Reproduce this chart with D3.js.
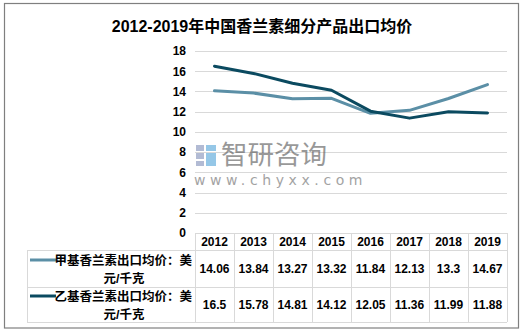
<!DOCTYPE html>
<html><head><meta charset="utf-8">
<script src="https://cdn.jsdelivr.net/npm/d3@7"></script>
<style>body{margin:0;background:#fff}svg{display:block}</style>
</head><body>
<script>
const title = "2012-2019年中国香兰素细分产品出口均价";
const years = ["2012","2013","2014","2015","2016","2017","2018","2019"];
const seriesNames = ["甲基香兰素出口均价：美元/千克","乙基香兰素出口均价：美元/千克"];
const seriesLabelLines = [["甲基香兰素出口均价：美","元/千克"],["乙基香兰素出口均价：美","元/千克"]];
const methylValues = [14.06,13.84,13.27,13.32,11.84,12.13,13.3,14.67];
const ethylValues = [16.5,15.78,14.81,14.12,12.05,11.36,11.99,11.88];
const valueLabels = [["14.06","13.84","13.27","13.32","11.84","12.13","13.3","14.67"],["16.5","15.78","14.81","14.12","12.05","11.36","11.99","11.88"]];
const yTicks = [0,2,4,6,8,10,12,14,16,18];
const colors = ["#5b8fa6","#0b4a60"];

const W=525,H=332;
const svg=d3.select("body").append("svg").attr("width",W).attr("height",H);
const font="Arial, 'Liberation Sans', 'Noto Sans CJK SC', sans-serif";
svg.append("rect").attr("x",4.5).attr("y",3.5).attr("width",514).attr("height",324.5).attr("fill","#fff").attr("stroke","#7f7f7f").attr("stroke-width",1.2);

svg.append("text").attr("x",262).attr("y",32).attr("text-anchor","middle")
  .attr("font-family",font).attr("font-weight","bold").attr("font-size",16).attr("fill","#000").text(title);

const x=d3.scaleBand().domain(years).range([195,507]);
const y=d3.scaleLinear().domain([0,18]).range([233,51]);

svg.append("g").selectAll("line").data(yTicks.filter(d=>d>0)).join("line")
  .attr("x1",195).attr("x2",507).attr("y1",d=>Math.round(y(d))+0.5).attr("y2",d=>Math.round(y(d))+0.5)
  .attr("stroke","#d9d9d9").attr("stroke-width",1);

const yAxis=d3.axisLeft(y).tickValues(yTicks).tickSize(0).tickPadding(9);
const ga=svg.append("g").attr("transform","translate(195,0)").call(yAxis);
ga.select(".domain").remove();
ga.selectAll("text").attr("font-family",font).attr("font-weight","bold").attr("font-size",12).attr("fill","#000");

// watermark
const wm=svg.append("g").attr("opacity",0.6);
wm.append("rect").attr("x",196).attr("y",145).attr("width",8).attr("height",6).attr("fill","#7f8fb8");
wm.append("rect").attr("x",196).attr("y",153).attr("width",8).attr("height",6).attr("fill","#7f8fb8");
wm.append("rect").attr("x",196).attr("y",161).attr("width",8).attr("height",5).attr("fill","#7f8fb8");
wm.append("rect").attr("x",206).attr("y",145).attr("width",10).attr("height",6).attr("fill","#4fa3d8");
wm.append("rect").attr("x",206).attr("y",153).attr("width",10).attr("height",13).attr("fill","#4fa3d8");
wm.append("text").attr("x",221).attr("y",164).attr("font-family","'Noto Sans CJK SC', sans-serif").attr("font-size",26.5).attr("fill","#555").text("智研咨询");
wm.append("text").attr("x",194).attr("y",185).attr("font-family","'DejaVu Sans', sans-serif").attr("font-size",14).attr("letter-spacing",4.6).attr("fill","#666").text("www.chyxx.com");

const line=d3.line().x((d,i)=>x(years[i])+x.bandwidth()/2).y(d=>y(d));
[methylValues,ethylValues].forEach((vals,k)=>{
  svg.append("path").datum(vals).attr("d",line).attr("fill","none")
    .attr("stroke",colors[k]).attr("stroke-width",3).attr("stroke-linejoin","round").attr("stroke-linecap","round");
});

const tL=27, tR=507, rows=[233,250,287,322];
const tg=svg.append("g");
const gc="#d9d9d9";
tg.append("line").attr("x1",195).attr("x2",tR).attr("y1",rows[0]+0.5).attr("y2",rows[0]+0.5).attr("stroke",gc);
[rows[1],rows[2],rows[3]].forEach(r=>tg.append("line").attr("x1",tL).attr("x2",tR).attr("y1",r+0.5).attr("y2",r+0.5).attr("stroke",gc));
tg.append("line").attr("x1",tL+0.5).attr("x2",tL+0.5).attr("y1",rows[1]).attr("y2",rows[3]).attr("stroke",gc);
years.forEach(yr=>tg.append("line").attr("x1",x(yr)+0.5).attr("x2",x(yr)+0.5).attr("y1",rows[0]).attr("y2",rows[3]).attr("stroke",gc));
tg.append("line").attr("x1",tR+0.5).attr("x2",tR+0.5).attr("y1",rows[0]).attr("y2",rows[3]).attr("stroke",gc);

tg.selectAll("text.h").data(years).join("text").attr("class","h")
  .attr("x",d=>x(d)+x.bandwidth()/2).attr("y",(rows[0]+rows[1])/2+4.5).attr("text-anchor","middle")
  .attr("font-family",font).attr("font-weight","bold").attr("font-size",12).attr("fill","#000").text(d=>d);

[0,1].forEach(k=>{
  const top=rows[k+1], bot=rows[k+2], mid=(top+bot)/2;
  tg.selectAll("text.v"+k).data(valueLabels[k]).join("text").attr("class","v"+k)
    .attr("x",(d,i)=>x(years[i])+x.bandwidth()/2).attr("y",mid+4.5).attr("text-anchor","middle")
    .attr("font-family",font).attr("font-weight","bold").attr("font-size",12).attr("fill","#000").text(d=>d);
  tg.append("line").attr("x1",30).attr("x2",56).attr("y1",mid-8.5).attr("y2",mid-8.5).attr("stroke",colors[k]).attr("stroke-width",3);
  tg.append("text").attr("x",192).attr("y",mid-4).attr("text-anchor","end")
    .attr("font-family",font).attr("font-weight","bold").attr("font-size",12.5).attr("fill","#000").text(seriesLabelLines[k][0]);
  tg.append("text").attr("x",124).attr("y",mid+14).attr("text-anchor","middle")
    .attr("font-family",font).attr("font-weight","bold").attr("font-size",12.5).attr("fill","#000").text(seriesLabelLines[k][1]);
});
</script>
</body></html>
